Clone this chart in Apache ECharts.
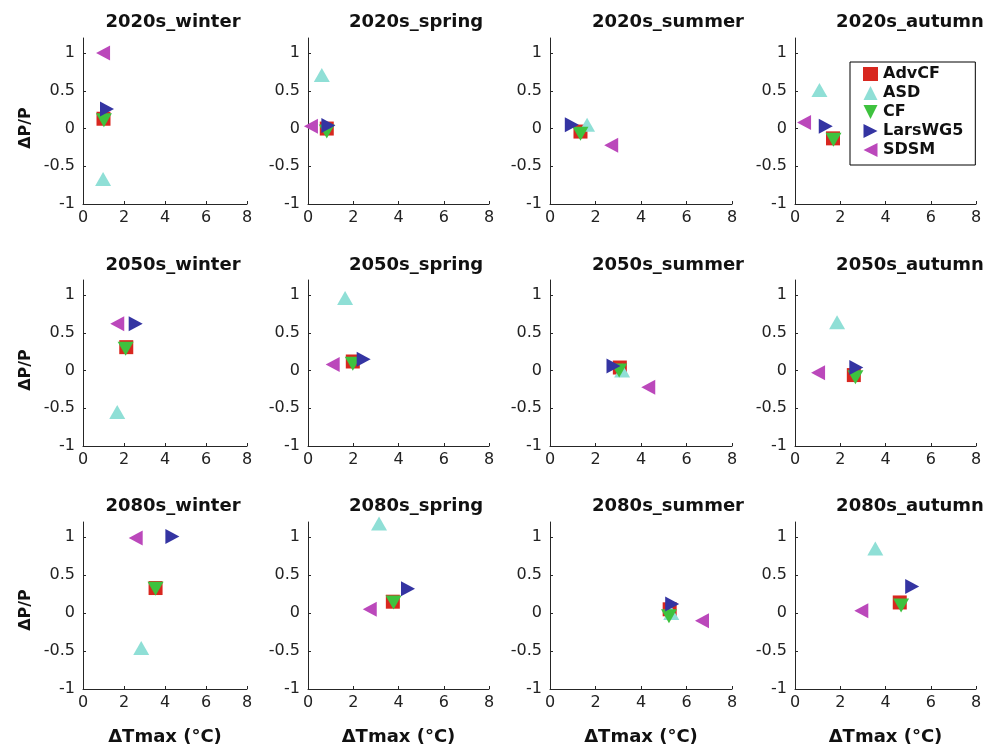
<!DOCTYPE html>
<html>
<head>
<meta charset="utf-8">
<script src="https://cdn.jsdelivr.net/npm/echarts@6/dist/echarts.min.js"></script>
<style>
  html, body { margin: 0; padding: 0; background: #fff; }
  #chart { width: 998px; height: 747px; }
</style>
</head>
<body>
<div id="chart"></div>
<script>
// Panels, in reading order
const panels = [
  "2020s_winter", "2020s_spring", "2020s_summer", "2020s_autumn",
  "2050s_winter", "2050s_spring", "2050s_summer", "2050s_autumn",
  "2080s_winter", "2080s_spring", "2080s_summer", "2080s_autumn",
];

// ΔTmax (x) and ΔP/P (y) per method, one value per panel
const advcfX = [1.0, 0.83, 1.34, 1.68, 2.11, 1.98, 3.07, 2.6, 3.54, 3.75, 5.26, 4.63];
const advcfY = [0.13, 0.0, -0.04, -0.13, 0.31, 0.12, 0.04, -0.06, 0.33, 0.15, 0.05, 0.14];
const asdX = [0.98, 0.61, 1.63, 1.08, 1.67, 1.64, 3.17, 1.86, 2.84, 3.14, 5.33, 3.55];
const asdY = [-0.67, 0.71, 0.05, 0.51, -0.55, 0.96, 0.0, 0.64, -0.46, 1.18, 0.0, 0.85];
const cfX = [1.02, 0.83, 1.34, 1.7, 2.08, 1.98, 3.04, 2.67, 3.54, 3.78, 5.23, 4.69];
const cfY = [0.11, -0.04, -0.07, -0.15, 0.29, 0.09, 0.0, -0.09, 0.32, 0.14, -0.04, 0.1];
const larsX = [1.17, 0.9, 0.96, 1.36, 2.57, 2.46, 2.79, 2.71, 4.36, 4.42, 5.37, 5.18];
const larsY = [0.26, 0.04, 0.05, 0.03, 0.62, 0.15, 0.06, 0.04, 1.01, 0.32, 0.12, 0.35];
const sdsmX = [0.98, 0.13, 2.69, 0.4, 1.67, 1.09, 4.32, 1.02, 2.57, 2.73, 6.68, 2.93];
const sdsmY = [1.0, 0.03, -0.22, 0.08, 0.62, 0.08, -0.22, -0.03, 0.99, 0.05, -0.1, 0.03];

const xTicks = [0, 2, 4, 6, 8];
const yTicks = [-1, -0.5, 0, 0.5, 1];

const methods = [
  { name: "AdvCF", xs: advcfX, ys: advcfY, color: "#d8271f", symbol: "rect", size: 14 },
  { name: "ASD", xs: asdX, ys: asdY, color: "#8fdfd6", symbol: "path://M5,0L10,10L0,10Z", size: [16, 14] },
  { name: "CF", xs: cfX, ys: cfY, color: "#3ec23e", symbol: "path://M0,0L10,0L5,10Z", size: [16, 14] },
  { name: "LarsWG5", xs: larsX, ys: larsY, color: "#3434a2", symbol: "path://M0,0L10,5L0,10Z", size: [14, 15] },
  { name: "SDSM", xs: sdsmX, ys: sdsmY, color: "#bb48bb", symbol: "path://M10,0L0,5L10,10Z", size: [14, 15] },
];

// grid geometry (px)
const colLeft = [83, 308, 550, 795];
const colWidth = [164, 181, 182, 181];
const rowTop = [38, 280, 522];
const rowHeight = [166, 166, 167];
const titleX = [173, 416, 668, 910];
const titleY = [22, 265, 506];

const FONT = "DejaVu Sans";
const AXIS = "#262626";

const grids = [], xAxes = [], yAxes = [], titles = [], series = [];

panels.forEach((p, i) => {
  const r = Math.floor(i / 4), c = i % 4;
  grids.push({ left: colLeft[c], top: rowTop[r], width: colWidth[c], height: rowHeight[r] });
  titles.push({
    text: p, left: titleX[c], top: titleY[r], padding: 0,
    textAlign: "center", textVerticalAlign: "middle",
    textStyle: { fontFamily: FONT, fontWeight: "bold", fontSize: 18, color: "#111" },
  });
  xAxes.push({
    type: "value", gridIndex: i, min: 0, max: 8, interval: 2,
    name: r === 2 ? "ΔTmax (°C)" : "", nameLocation: "middle", nameGap: 39,
    nameTextStyle: { fontFamily: FONT, fontWeight: "bold", fontSize: 18, color: "#111" },
    axisLine: { show: true, onZero: false, lineStyle: { color: AXIS, width: 1 } },
    axisTick: { show: true, inside: true, length: 3, lineStyle: { color: AXIS } },
    axisLabel: { fontFamily: FONT, fontSize: 16, color: "#222", margin: 6, customValues: xTicks },
    splitLine: { show: false },
  });
  yAxes.push({
    type: "value", gridIndex: i, min: -1, max: 1.2, interval: 0.5,
    axisLine: { show: true, onZero: false, lineStyle: { color: AXIS, width: 1 } },
    axisTick: { show: true, inside: true, length: 3, lineStyle: { color: AXIS }, customValues: yTicks },
    axisLabel: { fontFamily: FONT, fontSize: 16, color: "#222", margin: 8, customValues: yTicks },
    splitLine: { show: false },
  });
  methods.forEach((m, k) => {
    series.push({
      type: "scatter", name: m.name, xAxisIndex: i, yAxisIndex: i,
      data: [[m.xs[i], m.ys[i]]],
      symbol: m.symbol, symbolSize: m.size,
      itemStyle: { color: m.color, opacity: 1 },
      z: 2 + k, clip: false, silent: true,
    });
  });
});

// y-axis labels for the first column
const yNames = [128, 370, 610].map((y) => ({
  type: "text", x: 26, y: y, rotation: Math.PI / 2,
  style: { text: "ΔP/P", align: "center", verticalAlign: "middle",
    font: "bold 16px 'DejaVu Sans'", fill: "#111" },
}));

const chart = echarts.init(document.getElementById("chart"), null, { renderer: "canvas" });
chart.setOption({
  animation: false,
  backgroundColor: "#fff",
  title: titles,
  grid: grids,
  xAxis: xAxes,
  yAxis: yAxes,
  legend: {
    data: methods.map((m) => m.name),
    orient: "vertical", left: 850, top: 62,
    padding: [4, 12, 7, 13],
    itemWidth: 15, itemHeight: 14, itemGap: 3,
    borderColor: "#000", borderWidth: 1, backgroundColor: "#fff",
    textStyle: { fontFamily: FONT, fontWeight: "bold", fontSize: 16, color: "#111" },
    selectedMode: false,
  },
  graphic: yNames,
  series: series,
});
</script>
</body>
</html>
